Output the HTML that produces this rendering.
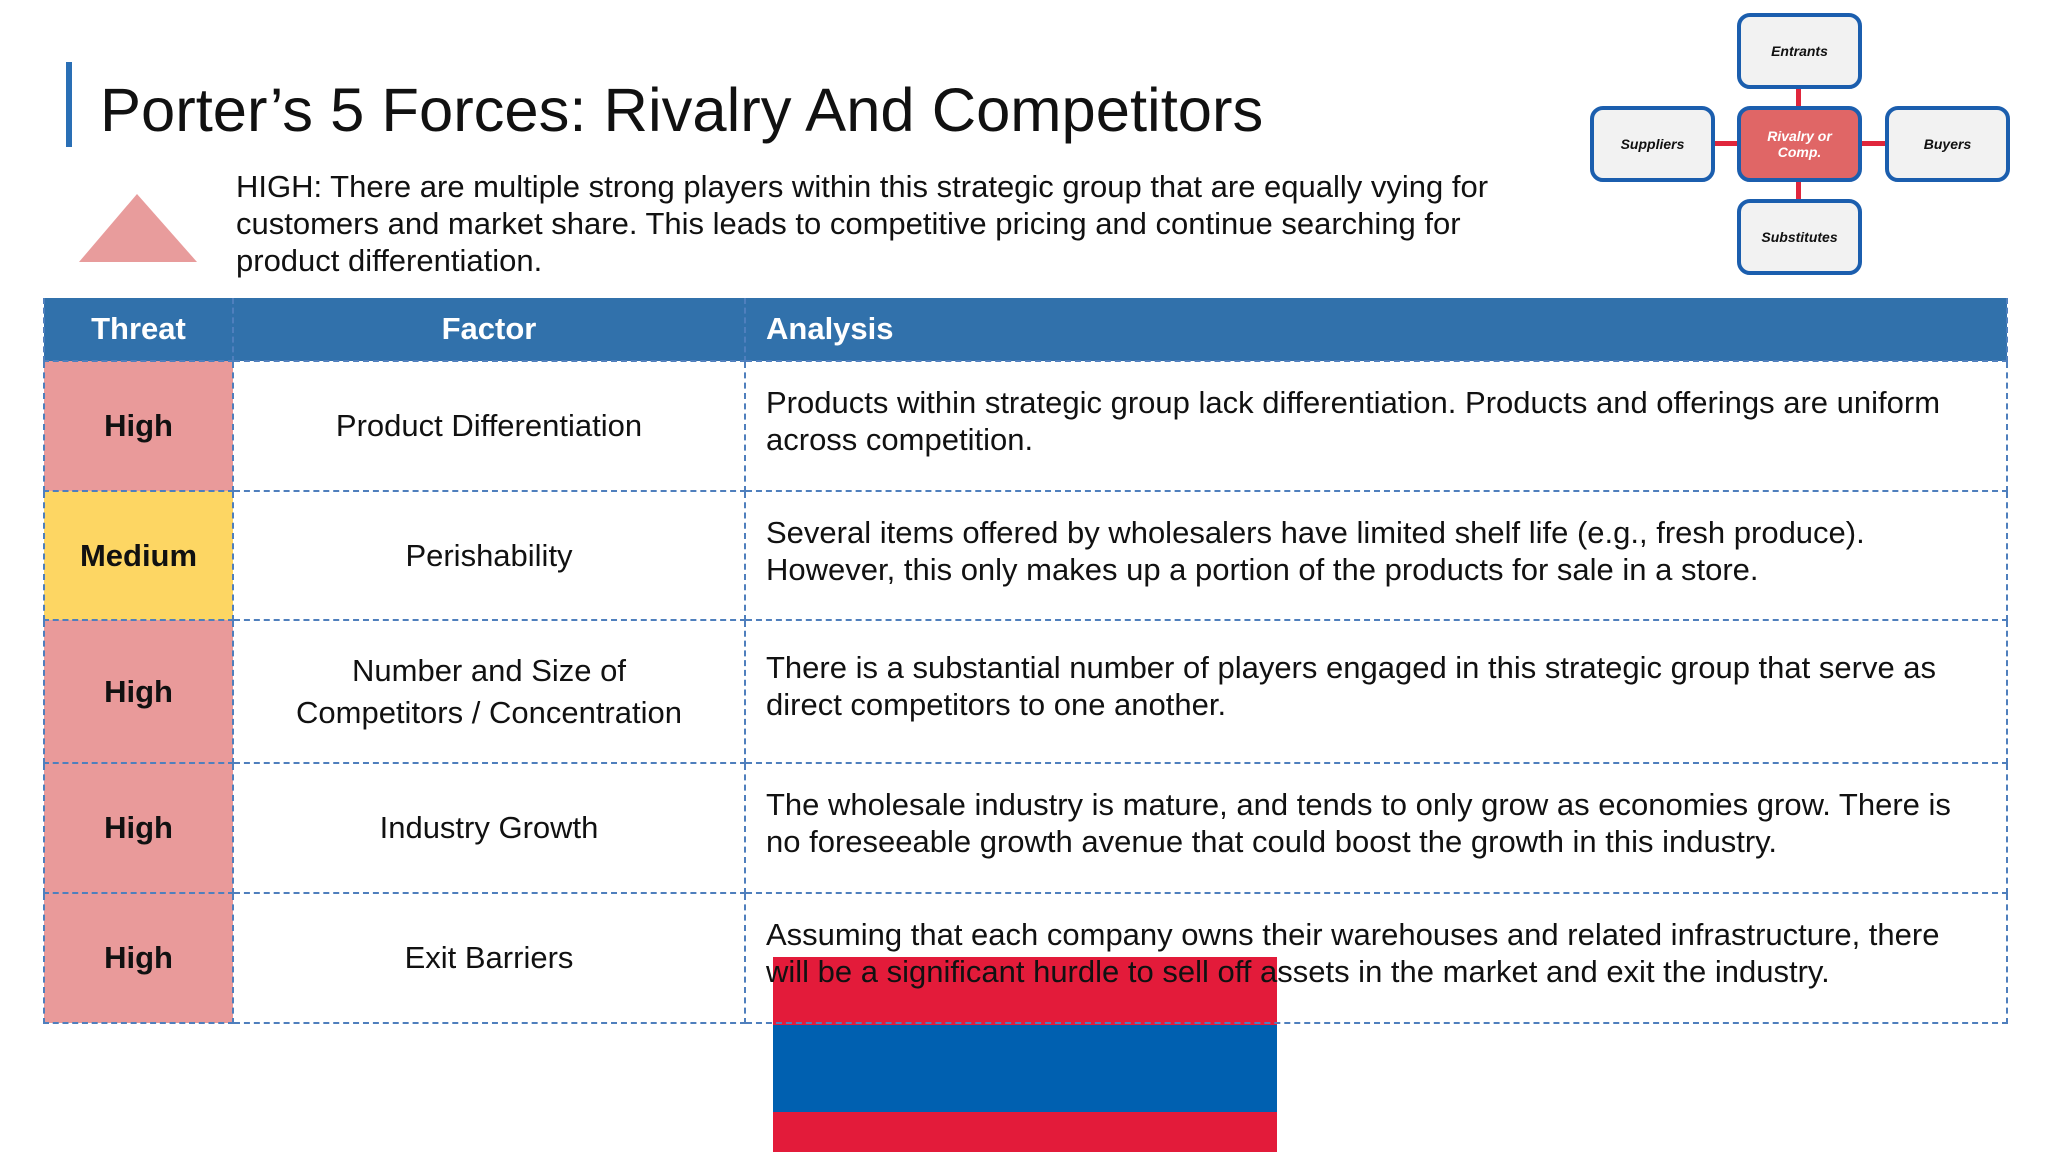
<!DOCTYPE html>
<html><head><meta charset="utf-8"><style>
*{margin:0;padding:0;box-sizing:border-box}
body{width:2048px;height:1152px;background:#fff;position:relative;overflow:hidden;font-family:"Liberation Sans",sans-serif;color:#111}
.abs{position:absolute}
.box{position:absolute;width:125px;height:76px;border:4px solid #1b5eae;border-radius:13px;background:#f2f2f2;display:flex;align-items:center;justify-content:center;text-align:center;font-weight:bold;font-style:italic;font-size:14px;line-height:16px}
.ln{position:absolute;background:#e0263c}
table{position:absolute;left:43px;top:298px;width:1965px;border-collapse:collapse;table-layout:fixed;z-index:2}
td,th{border:2px dashed #4f7fbd;font-size:31px;vertical-align:middle}
th{background:#3171ab;color:#fff;height:63px;font-weight:bold;border-top:none}
td.t{font-weight:bold;text-align:center}
td.f{text-align:center;line-height:42px}
td.a{padding-left:20px;padding-right:20px;line-height:37px}
.hi{background:#e99a9a}.me{background:#fdd663}
</style></head><body>
<div class="abs" style="left:66px;top:62px;width:6px;height:85px;background:#2a6fb5"></div>
<div class="abs" style="left:100px;top:73px;font-size:61.5px;line-height:76px">Porter’s 5 Forces: Rivalry And Competitors</div>
<svg class="abs" style="left:79px;top:192px" width="120" height="72"><polygon points="58,2 118,70 0,70" fill="#e89c9c"/></svg>
<div class="abs" style="left:236px;top:168px;width:1285px;font-size:31px;line-height:37px">HIGH: There are multiple strong players within this strategic group that are equally vying for customers and market share. This leads to competitive pricing and continue searching for product differentiation.</div>

<div class="ln" style="left:1796px;top:88px;width:5px;height:20px"></div>
<div class="ln" style="left:1796px;top:179px;width:5px;height:22px"></div>
<div class="ln" style="left:1713px;top:141px;width:26px;height:5px"></div>
<div class="ln" style="left:1859px;top:141px;width:28px;height:5px"></div>
<div class="box" style="left:1737px;top:13px">Entrants</div>
<div class="box" style="left:1590px;top:106px">Suppliers</div>
<div class="box" style="left:1737px;top:106px;background:#e06666;color:#fff">Rivalry or<br>Comp.</div>
<div class="box" style="left:1885px;top:106px">Buyers</div>
<div class="box" style="left:1737px;top:199px">Substitutes</div>

<table>
<colgroup><col style="width:189px"><col style="width:512px"><col></colgroup>
<tr><th>Threat</th><th>Factor</th><th style="text-align:left;padding-left:20px">Analysis</th></tr>
<tr style="height:130px"><td class="t hi">High</td><td class="f">Product Differentiation</td><td class="a" style="vertical-align:top;padding-top:22px">Products within strategic group lack differentiation. Products and offerings are uniform across competition.</td></tr>
<tr style="height:129px"><td class="t me">Medium</td><td class="f">Perishability</td><td class="a" style="vertical-align:top;padding-top:22px">Several items offered by wholesalers have limited shelf life (e.g., fresh produce). However, this only makes up a portion of the products for sale in a store.</td></tr>
<tr style="height:143px"><td class="t hi">High</td><td class="f">Number and Size of<br>Competitors / Concentration</td><td class="a" style="vertical-align:top;padding-top:28px">There is a substantial number of players engaged in this strategic group that serve as direct competitors to one another.</td></tr>
<tr style="height:130px"><td class="t hi">High</td><td class="f">Industry Growth</td><td class="a" style="vertical-align:top;padding-top:22px">The wholesale industry is mature, and tends to only grow as economies grow. There is no foreseeable growth avenue that could boost the growth in this industry.</td></tr>
<tr style="height:130px"><td class="t hi">High</td><td class="f">Exit Barriers</td><td class="a" style="vertical-align:top;padding-top:22px">Assuming that each company owns their warehouses and related infrastructure, there will be a significant hurdle to sell off assets in the market and exit the industry.</td></tr>
</table>

<div class="abs" style="left:773px;top:957px;width:504px;height:195px;z-index:1">
<div style="height:68px;background:#e31b3a"></div>
<div style="height:87px;background:#0060b0"></div>
<div style="height:40px;background:#e31b3a"></div>
</div>
</body></html>
